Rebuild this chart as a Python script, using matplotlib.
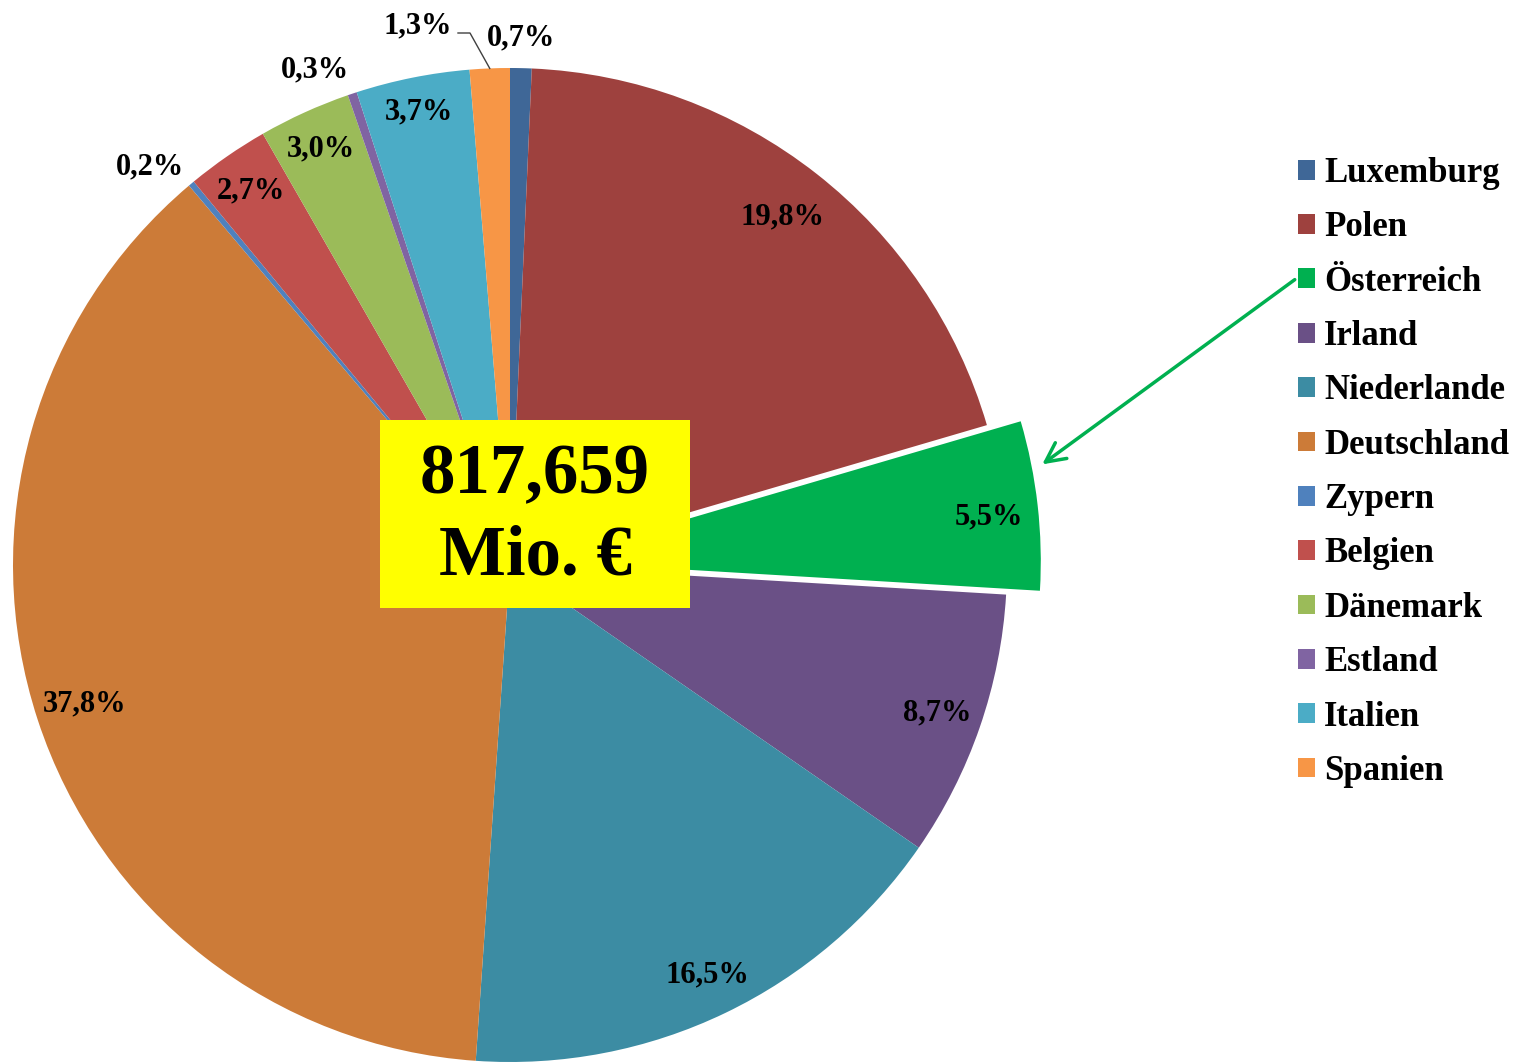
import numpy as np
import matplotlib as mpl
mpl.use('Agg')
import matplotlib.pyplot as plt
from matplotlib.patches import Rectangle

# data
countries = ['Luxemburg', 'Polen', 'Österreich', 'Irland', 'Niederlande', 'Deutschland',
             'Zypern', 'Belgien', 'Dänemark', 'Estland', 'Italien', 'Spanien']
shares = [0.7, 19.8, 5.5, 8.7, 16.5, 37.8, 0.2, 2.7, 3.0, 0.3, 3.7, 1.3]
share_labels = ['0,7%', '19,8%', '5,5%', '8,7%', '16,5%', '37,8%',
                '0,2%', '2,7%', '3,0%', '0,3%', '3,7%', '1,3%']
colors = ['#3F6797', '#9E413E', '#00B050', '#6A5086', '#3C8CA3', '#CC7B38',
          '#4F81BD', '#C0504D', '#9BBB59', '#8064A2', '#4BACC6', '#F79646']
total_lines = ['817,659', 'Mio. €']

# layout (pixels)
W, H = 1517, 1062
center = (510, H - 565)
radius = 497
explode = [0, 0, 34, 0, 0, 0, 0, 0, 0, 0, 0, 0]  # pie explode is in data units
# label placement: radial factor and angle nudge (deg)
label_r = [1.06, 0.89, 0.90, 0.91, 0.915, 0.90, 1.08, 0.915, 0.92, 1.07, 0.93, 1.10]
label_da = [0, 0, -0.8, 0, 0, 0, 2.3, 0, 0, 3.0, 0, 7.4]

plt.rcParams['font.family'] = ['Liberation Serif', 'DejaVu Serif']
plt.rcParams['font.weight'] = 'bold'

fig = plt.figure(figsize=(W / 100, H / 100), dpi=100)
ax = fig.add_axes([0, 0, 1, 1])

wedges, _ = ax.pie(shares, colors=colors, startangle=90, counterclock=False,
                   center=center, radius=radius, explode=explode,
                   wedgeprops=dict(linewidth=0), frame=True)
ax.set_aspect('equal')
ax.axis('off')
ax.set_xlim(0, W)
ax.set_ylim(0, H)

for w, lab, rf, da in zip(wedges, share_labels, label_r, label_da):
    ang = np.deg2rad((w.theta1 + w.theta2) / 2 + da)
    cx, cy = w.center
    ax.text(cx + rf * radius * np.cos(ang), cy + rf * radius * np.sin(ang), lab,
            ha='center', va='center', fontsize=22, fontweight='bold', zorder=5)

# leader line for Spanien
w = wedges[-1]
ang = np.deg2rad((w.theta1 + w.theta2) / 2)
ex, ey = center[0] + radius * np.cos(ang), center[1] + radius * np.sin(ang)
ax.plot([458, 470, ex], [H - 33, H - 33, ey], color='#404040', lw=1, zorder=4)

# total box
ax.add_patch(Rectangle((380, H - 608), 310, 188, facecolor='#FFFF00',
                       edgecolor='none', zorder=6))
ax.text(535, H - 476, total_lines[0], ha='center', va='center', fontsize=51,
        fontweight='bold', zorder=7)
ax.text(535, H - 557, total_lines[1], ha='center', va='center', fontsize=51,
        fontweight='bold', zorder=7)

# arrow to Österreich
ax.annotate('', xy=(1040, H - 466), xytext=(1297, H - 278),
            arrowprops=dict(arrowstyle='->', color='#00B050', lw=2.5,
                            mutation_scale=35))

fig.legend(wedges, countries, loc='upper left',
           bbox_to_anchor=(1298 / W, 1 - 157 / H), frameon=False,
           fontsize=25, handlelength=0.5, handleheight=0.5,
           handletextpad=0.25, labelspacing=0.615, borderpad=0,
           borderaxespad=0)

fig.savefig('out.png', dpi=100)
